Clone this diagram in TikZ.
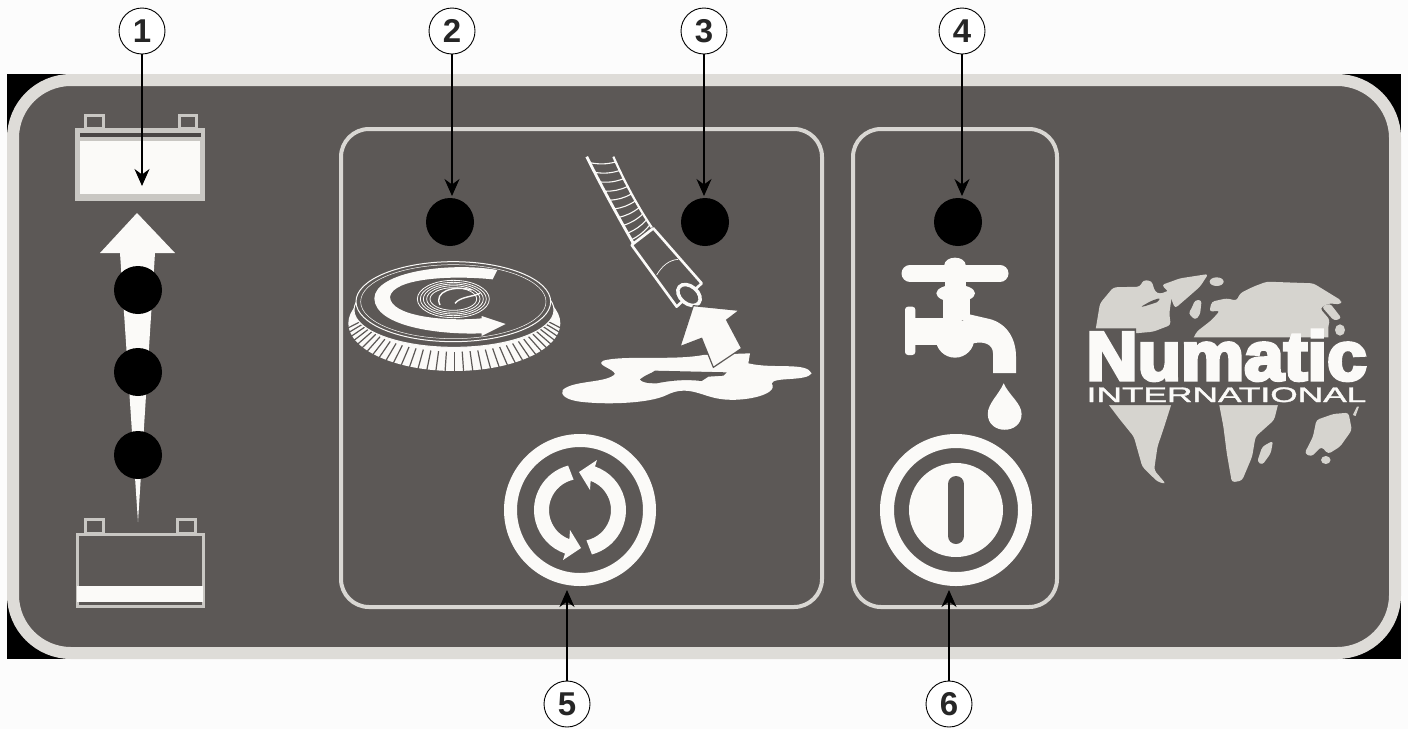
\documentclass[tikz,border=0pt]{standalone}
\usepackage{fontspec}
\setmainfont{Liberation Sans}
\newfontfamily\logofont[BoldFont={Liberation Sans Bold},BoldFeatures={FakeBold=5}]{Liberation Sans}
\newfontfamily\logosub[FakeBold=1.4]{Liberation Sans}
\usetikzlibrary{arrows.meta}
\definecolor{panel}{HTML}{5C5856}
\definecolor{rim}{HTML}{DEDCD8}
\definecolor{frame}{HTML}{D9D7D3}
\definecolor{batt}{HTML}{C9C7C3}
\definecolor{mapc}{HTML}{D6D4CF}
\definecolor{icon}{HTML}{FBFAF8}
\tikzset{
  callout/.style={circle,draw=black,fill=white,line width=.9pt,minimum size=46pt,inner sep=0pt,font=\fontsize{33}{33}\selectfont\bfseries,text=black!85},
  led/.style={circle,fill=black,minimum size=48pt,inner sep=0pt},
  leader/.style={draw=black,line width=1.4pt,-{Stealth[length=17pt,width=15pt]}},
  ctrlbox/.style={draw=frame,line width=4pt,rounded corners=28pt},
  mapfill/.style={fill=mapc,draw=none,rounded corners=3pt},
  thinw/.style={draw=icon,line width=1pt},
}
\begin{document}
\begin{tikzpicture}[x=1pt,y=-1pt]
\useasboundingbox (0,0) rectangle (1408,729);
\fill[white!99!black] (0,0) rectangle (1408,729);
% panel
\fill[black] (7,74) rectangle (1401,659);
\draw[draw=rim,fill=panel,line width=12pt,rounded corners=58pt] (13,80) rectangle (1395,653);
\draw[ctrlbox] (341,129) rectangle (822,607);
\draw[ctrlbox] (853,129) rectangle (1057,607);

% top battery
\draw[batt,line width=3pt,fill=panel] (85,128) rectangle (103,115);
\draw[batt,line width=3pt,fill=panel] (179,128) rectangle (196,115);
\fill[batt] (75,128) rectangle (205,201);
\fill[panel!80!black] (80,133) rectangle (201,137);
\fill[icon] (80,141) rectangle (200,194);
% bottom battery
\draw[batt,line width=3pt,fill=panel] (85,533) rectangle (103,519);
\draw[batt,line width=3pt,fill=panel] (177,533) rectangle (195,519);
\draw[batt,line width=3pt,fill=panel] (77,534) rectangle (203,606);
\fill[icon] (77,586) rectangle (203,602);

% charge arrow
\fill[icon] (137,213) -- (175,253) -- (155,253) -- (138,522) -- (120,253) -- (100,253) -- cycle;
\node[led] (l1) at (138,290) {};
\node[led] (l2) at (138,372) {};
\node[led] (l3) at (138,455) {};
\node[led] (l4) at (450,222) {};
\node[led] (l5) at (705,222) {};
\node[led] (l6) at (958,222) {};

% brush and hose, in the coordinates of the zoomed crop
\begin{scope}[shift={(340,120)},scale=1/3]
  \fill[icon] (343,610) ellipse [x radius=318,y radius=143];
  \foreach \t in {5,10,...,175}{
    \draw[panel,line width=1.2pt] ({343+322*cos(\t)},{612+147*sin(\t)}) -- ({343+272*cos(\t)},{590+105*sin(\t)});
  }
  \draw[thinw,fill=panel] (342,570) ellipse [x radius=300,y radius=112];
  \draw[thinw,fill=panel] (340,545) ellipse [x radius=292,y radius=120];
  \draw[draw=icon,line width=.5pt] (340,545) ellipse [x radius=278,y radius=111];
  \fill[icon] (472,450) .. controls (330,425) and (105,455) .. (103,535)
     .. controls (105,620) and (300,645) .. (425,640)
     -- (425,648) -- (497,612) -- (425,588) -- (425,595)
     .. controls (320,605) and (150,590) .. (150,530)
     .. controls (160,475) and (330,465) .. (458,478) -- cycle;
  \foreach \rx/\ry in {108/56,99/50,90/45,80/40,70/34}{
    \draw[draw=icon,line width=.8pt] (340,537) ellipse [x radius=\rx,y radius=\ry];
  }
  \draw[draw=icon,line width=1.4pt] (300,555) .. controls (280,515) and (340,495) .. (395,510);
  \draw[draw=icon,line width=1.4pt] (345,550) .. controls (360,530) and (400,530) .. (420,520);

  % hose
  \path (740,110) .. controls (790,210) and (840,300) .. (880,370)
    \foreach \t/\n in {.06/a,.16/b,.26/c,.36/d,.46/e,.56/f,.66/g,.76/h,.86/i,.95/j}{coordinate[pos=\t] (hl\n)};
  \path (820,110) .. controls (860,200) and (900,270) .. (935,322)
    \foreach \t/\n in {.06/a,.16/b,.26/c,.36/d,.46/e,.56/f,.66/g,.76/h,.86/i,.95/j}{coordinate[pos=\t] (hr\n)};
  \foreach \n in {a,b,c,d,e,f,g,h,i,j}{
    \draw[draw=icon,line width=1.1pt] (hl\n) to[bend right=12] (hr\n);
  }
  \draw[draw=icon,line width=2.8pt] (740,110) .. controls (790,210) and (840,300) .. (880,370);
  \draw[draw=icon,line width=2.2pt] (820,110) .. controls (860,200) and (900,270) .. (935,322);
  \draw[draw=icon,line width=2.6pt,line join=round] (875,375) -- (940,325) -- (1085,490) -- (1010,560) -- cycle;
  \draw[draw=icon,line width=.7pt] (950,465) .. controls (965,440) and (985,420) .. (1015,418);
  \draw[draw=icon,line width=3.5pt,fill=panel,rotate around={-40:(1047,525)}] (1047,525) ellipse [x radius=38,y radius=26];

  % puddle
  \fill[icon] (668,810) .. controls (700,780) and (800,790) .. (825,762)
     .. controls (820,745) and (765,735) .. (790,722)
     .. controls (850,705) and (1000,722) .. (1090,705)
     -- (1230,700) -- (1225,730)
     .. controls (1300,748) and (1400,725) .. (1415,760)
     .. controls (1400,785) and (1300,770) .. (1295,790)
     .. controls (1320,825) and (1200,850) .. (1130,835)
     .. controls (1080,825) and (1040,795) .. (980,825)
     .. controls (930,850) and (800,855) .. (720,845)
     .. controls (680,840) and (660,825) .. (668,810) -- cycle;
  \fill[panel] (900,778) .. controls (915,765) and (935,760) .. (945,752)
     -- (1160,757) -- (1150,767) -- (1105,770) -- (1085,783)
     .. controls (1040,778) and (1000,780) .. (950,790) .. controls (925,790) and (905,788) .. (900,778) -- cycle;
  % arrow
  \draw[draw=panel,line width=1.2pt,fill=icon,line join=miter] (1060,557) -- (1198,571) -- (1160,600) -- (1205,685) -- (1120,742) -- (1085,655) -- (1020,680) -- cycle;
\end{scope}

% cycle button
\begin{scope}[shift={(580,510)}]
  \draw[draw=icon,line width=13pt] (0,0) circle [radius=69.5];
  \foreach \r in {0,180}{
    \begin{scope}[rotate=\r]
      \fill[icon] (-105:46) arc[start angle=-105,end angle=-251,radius=46] -- (-17,50) -- (1,38) -- (-10,20) -- (-250:31) arc[start angle=-250,end angle=-102,radius=31] -- cycle;
    \end{scope}
  }
\end{scope}

% faucet
\begin{scope}[shift={(890,250)},scale=1/3]
  \draw[draw=icon,line width=17pt,line cap=round] (60,70) -- (330,70);
  \fill[icon] (195,45) ellipse [x radius=32,y radius=22];
  \fill[icon] (165,45) rectangle (227,120);
  \fill[icon] (197,130) ellipse [x radius=58,y radius=26];
  \fill[icon] (160,140) rectangle (240,210);
  \fill[icon,rounded corners=3pt] (45,170) rectangle (76,315);
  \fill[icon] (70,205) rectangle (200,285);
  \fill[icon] (195,265) circle [radius=58];
  \fill[icon] (225,190) -- (290,205) .. controls (345,215) and (378,260) .. (378,320) -- (378,369) -- (309,369) -- (309,310)
     .. controls (309,285) and (285,272) .. (250,280) -- (200,290) -- cycle;
\end{scope}

% drop and southern continents, in the coordinates of the second crop
\begin{scope}[shift={(860,240)},xscale=1/2.958,yscale=1/3]
  \fill[icon] (425,430) .. controls (440,465) and (478,490) .. (478,522)
     .. controls (478,585) and (378,585) .. (378,522)
     .. controls (378,490) and (410,465) .. (425,430) -- cycle;
  \fill[mapfill] (725,480) -- (925,480) -- (900,560) -- (880,620) -- (870,690) -- (905,732) -- (880,725) -- (835,680) -- (810,590) -- (770,540) -- cycle;
  \fill[mapfill] (1060,480) -- (1240,480) -- (1225,540) -- (1170,590) -- (1160,650) -- (1130,722) -- (1100,727) -- (1085,640) -- (1075,560) -- cycle;
  \fill[mapfill] (1175,665) -- (1190,620) -- (1222,602) -- (1215,640) -- (1190,675) -- cycle;
  \fill[mapfill] (1315,640) -- (1340,590) -- (1350,540) -- (1400,522) -- (1445,518) -- (1455,570) -- (1420,620) -- (1385,642) -- (1365,620) -- (1335,650) -- cycle;
  \fill[mapc] (1378,660) circle [x radius=14,y radius=12];
  \fill[mapc] (1458,525) -- (1470,500) -- (1476,500) -- (1466,528) -- cycle;
\end{scope}

% northern continents, in the coordinates of the logo crop
\begin{scope}[shift={(1080,270)},scale=1/3]
  \fill[mapfill] (45,190) -- (60,100) -- (100,52) -- (180,50) -- (190,30) -- (215,33) -- (225,65) -- (240,72) -- (270,60) -- (275,80) -- (268,130) -- (272,165) -- (220,185) -- (165,190) -- cycle;
  \fill[panel,rounded corners=2pt] (183,110) -- (215,92) -- (240,84) -- (236,95) -- (190,110) -- cycle;
  \fill[mapfill] (245,45) -- (300,25) -- (385,12) -- (360,50) -- (320,85) -- (285,115) -- (265,65) -- cycle;
  \fill[mapc] (410,35) ellipse [x radius=21,y radius=13];
  \fill[mapfill] (335,115) -- (345,90) -- (365,90) -- (360,135) -- (345,150) -- (325,130) -- cycle;
  \fill[mapfill] (335,215) -- (350,185) -- (395,150) -- (420,122) -- (388,125) -- (395,95) -- (440,85) -- (470,92) -- (480,70) -- (520,50) -- (560,35) -- (700,40) -- (785,92) -- (782,103) -- (745,100) -- (720,115) -- (750,150) -- (745,165) -- (745,215) -- cycle;
  \fill[mapfill] (725,110) -- (750,100) -- (785,145) -- (762,152) -- cycle;
  \fill[mapc] (780,180) ellipse [x radius=15,y radius=17];
  % dark backing of the lettering
  \fill[panel] (18,175) -- (168,175) -- (168,202) -- (860,202) -- (860,405) -- (18,405) -- cycle;
\end{scope}

\node[inner sep=0pt,text=icon,font=\logofont\bfseries\fontsize{69}{69}\selectfont,anchor=base] (numatic) at (1226.5,380) {\scalebox{1.03}[1]{Numatic}};
\node[inner sep=0pt,text=icon,font=\logosub\fontsize{21}{21}\selectfont,anchor=base] (intl) at (1226.5,402) {\scalebox{1.68}[1]{INTERNATIONAL}};

% power button
\begin{scope}[shift={(956,510)}]
  \draw[draw=icon,line width=14pt] (0,0) circle [radius=69];
  \fill[icon] (0,0) circle [radius=47];
  \draw[draw=panel,line width=16pt,line cap=round] (0,-26) -- (0,26);
\end{scope}

% callouts
\node[callout] (c1) at (142,31) {1};
\node[callout] (c2) at (452,31) {2};
\node[callout] (c3) at (704,31) {3};
\node[callout] (c4) at (962,31) {4};
\node[callout] (c5) at (567,704) {5};
\node[callout] (c6) at (949,704) {6};
\coordinate (t1) at (142,186);
\coordinate (t2) at (452,196);
\coordinate (t3) at (704,196);
\coordinate (t4) at (962,196);
\coordinate (t5) at (567,590);
\coordinate (t6) at (949,590);
\draw[leader] (c1) -- (t1);
\draw[leader] (c2) -- (t2);
\draw[leader] (c3) -- (t3);
\draw[leader] (c4) -- (t4);
\draw[leader] (c5) -- (t5);
\draw[leader] (c6) -- (t6);
\end{tikzpicture}
\end{document}
